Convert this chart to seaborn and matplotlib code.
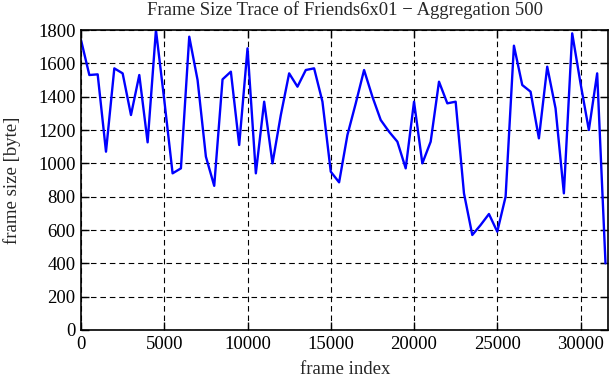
import numpy as np
import pandas as pd
import matplotlib.pyplot as plt
import seaborn as sns

# Frame size trace (aggregation 500 frames)
frames = list(range(0, 31501, 500))
frame_size = [1740, 1530, 1534, 1070, 1570, 1540, 1290, 1530, 1126, 1800,
              1380, 940, 970, 1760, 1500, 1040, 865, 1504, 1550, 1110,
              1690, 940, 1370, 1000, 1290, 1540, 1460, 1560, 1570, 1370,
              950, 886, 1170, 1360, 1560, 1400, 1260, 1190, 1130, 970,
              1370, 1000, 1130, 1490, 1360, 1370, 820, 570, 630, 696,
              590, 800, 1706, 1470, 1430, 1150, 1580, 1330, 820, 1780,
              1480, 1200, 1540, 400]

x_ticks = [0, 5000, 10000, 15000, 20000, 25000, 30000]
y_ticks = [0, 200, 400, 600, 800, 1000, 1200, 1400, 1600, 1800]

df = pd.DataFrame({'frame': frames, 'size': frame_size})

sns.set_style("ticks")
plt.rcParams['font.family'] = ['Liberation Serif', 'DejaVu Serif']

fig = plt.figure(figsize=(6.11, 3.80), dpi=100)
ax = fig.add_axes([0.1326, 0.1316, 0.8633, 0.7894])

sns.lineplot(data=df, x='frame', y='size', color='#0000ff', linewidth=1.7, ax=ax)

ax.set_xlim(0, 31680)
ax.set_ylim(0, 1800)
ax.set_xticks(x_ticks)
ax.set_yticks(y_ticks)
ax.grid(True, color='black', linestyle=(0, (5, 3.5)), linewidth=0.8)
ax.tick_params(direction='in', length=6, width=1, top=True, right=True,
               labelsize=13.5, colors='black', pad=4)
for s in ax.spines.values():
    s.set_linewidth(1.2)
    s.set_color('black')

ax.set_title("Frame Size Trace of Friends6x01 \u2212 Aggregation 500", fontsize=13.5, pad=11)
ax.set_xlabel("frame index", fontsize=13.5, labelpad=6)
ax.set_ylabel("frame size [byte]", fontsize=13.5, labelpad=12)

plt.savefig("out.png", dpi=100)
